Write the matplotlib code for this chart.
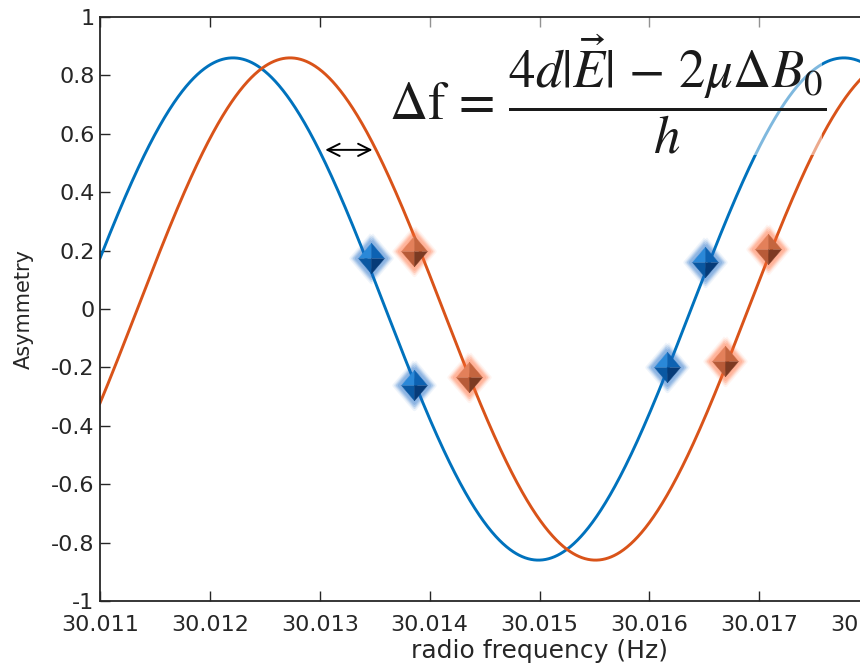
import numpy as np
import matplotlib
matplotlib.use("Agg")
import matplotlib.pyplot as plt
from matplotlib.patches import Rectangle

# parametros das curvas ajustadas
amplitude = 0.86
periodo = 0.00556
pico_azul = 30.01221
pico_laranja = 30.01273

# pontos medidos
x_azul = [30.01347, 30.013855, 30.01616, 30.01651]
y_azul = [0.175, -0.26, -0.199, 0.161]
x_laranja = [30.01386, 30.01436, 30.01669, 30.01708]
y_laranja = [0.20, -0.233, -0.178, 0.205]

xticks = [30.011, 30.012, 30.013, 30.014, 30.015, 30.016, 30.017, 30.018, 30.019]
xlabels = ["30.011", "30.012", "30.013", "30.014", "30.015", "30.016", "30.017", "30.018", "30.019"]
yticks = [-1, -0.8, -0.6, -0.4, -0.2, 0, 0.2, 0.4, 0.6, 0.8, 1]
ylabels = ["-1", "-0.8", "-0.6", "-0.4", "-0.2", "0", "0.2", "0.4", "0.6", "0.8", "1"]

# seta entre as curvas
seta_x = [30.01305, 30.01348]
seta_y = 0.545

AZUL = "#0072BD"
LARANJA = "#D95319"
CINZA = "#262626"

plt.rcParams["axes.unicode_minus"] = False
plt.rcParams["mathtext.fontset"] = "stix"

fig = plt.figure(figsize=(8.6, 6.66), dpi=100)
W, H = 860, 666
ax = fig.add_axes([100 / W, 65 / H, 879 / W, 584 / H])

xs = np.linspace(xticks[0], xticks[-1], 1500)
ax.plot(xs, amplitude * np.cos(2 * np.pi * (xs - pico_azul) / periodo), color=AZUL, lw=2.1, zorder=2)
ax.plot(xs, amplitude * np.cos(2 * np.pi * (xs - pico_laranja) / periodo), color=LARANJA, lw=2.1, zorder=2)

# faixa branca semi-transparente atras da equacao
ax.add_patch(Rectangle((30.01355, 0.527), 0.004025, 0.47, facecolor="white",
                       edgecolor="none", alpha=0.5, zorder=3))

losango = [(0, 1), (0.85, 0), (0, -1), (-0.85, 0), (0, 1)]


def diamante(ax, xv, yv, cores, brilho):
    # brilho em volta (varias camadas)
    for s, a in [(34, 0.07), (31, 0.09), (28, 0.12), (25, 0.16)]:
        ax.plot(xv, yv, ls="none", marker=losango, ms=s, color=brilho, alpha=a,
                mec=brilho, mew=3, zorder=4)
    facetas = [
        [(0, 0), (0, 1), (-0.85, 0)],
        [(0, 0), (0, 1), (0.85, 0)],
        [(0, 0), (0, -1), (-0.85, 0)],
        [(0, 0), (0, -1), (0.85, 0)],
    ]
    for f, c in zip(facetas, cores):
        ax.plot(xv, yv, ls="none", marker=f, ms=22, color=c, mec=c, mew=0.3, zorder=5)


diamante(ax, x_azul, y_azul, ["#2a88d8", "#0d62b2", "#0a58a2", "#063b78"], "#1c6cc8")
diamante(ax, x_laranja, y_laranja, ["#e3805a", "#c4653f", "#b85b38", "#7c3a22"], "#ff6a35")

ax.annotate("", xy=(seta_x[0], seta_y), xytext=(seta_x[1], seta_y),
            arrowprops=dict(arrowstyle="<->", color="black", lw=1.4, mutation_scale=22,
                            shrinkA=0, shrinkB=0), zorder=6)

ax.set_xlim(xticks[0], xticks[-1])
ax.set_ylim(-1, 1)
ax.set_xticks(xticks)
ax.set_xticklabels(xlabels)
ax.set_yticks(yticks)
ax.set_yticklabels(ylabels)
ax.tick_params(direction="in", length=7, width=1, top=True, right=True,
               labelsize=16, colors=CINZA, pad=4)
ax.tick_params(axis="x", pad=10)
for s in ax.spines.values():
    s.set_color(CINZA)
    s.set_linewidth(1.3)
ax.set_xlabel("radio frequency (Hz)", fontsize=18, color=CINZA, labelpad=3)
ax.set_ylabel("Asymmetry", fontsize=15, color=CINZA, labelpad=12)

fig.text(608 / W, 1 - 94 / H,
         r"$\Delta\mathrm{f}\,=\,\dfrac{4d|\vec{E}|\,-\,2\mu\Delta B_0}{h}$",
         fontsize=38, ha="center", va="center", color="#1a1a1a", zorder=7)

fig.savefig("out.png", dpi=100)
